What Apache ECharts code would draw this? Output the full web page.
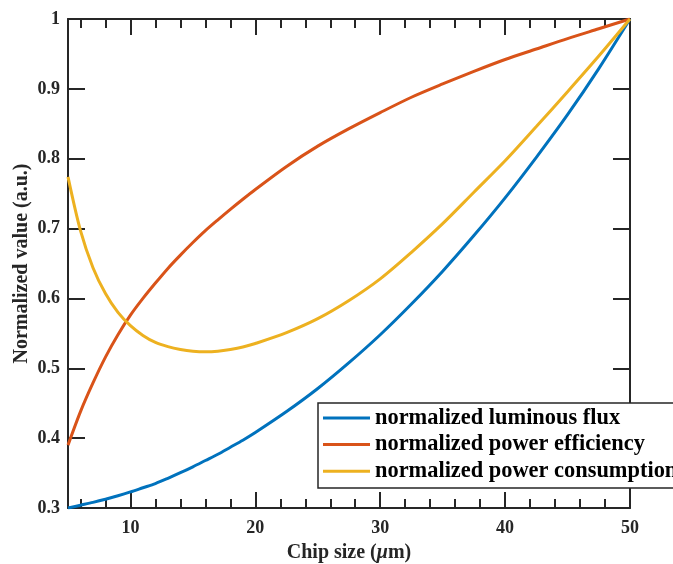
<!DOCTYPE html>
<html>
<head>
<meta charset="utf-8">
<script src="https://cdn.jsdelivr.net/npm/echarts@6/dist/echarts.min.js"></script>
<style>html,body{margin:0;padding:0;background:#fff}#c{width:673px;height:564px}</style>
</head>
<body>
<div id="c"></div>
<script>
// chip size (um)
var chipSize = [5,6,7,8,9,10,11,12,13,14,15,16,17,18,19,20,22.5,25,27.5,30,32.5,35,37.5,40,42.5,45,47.5,50];
var luminousFlux = [0.300,0.304,0.308,0.3125,0.3175,0.323,0.329,0.335,0.3425,0.3505,0.359,0.368,0.377,0.387,0.397,0.408,0.438,0.471,0.508,0.548,0.592,0.639,0.690,0.744,0.802,0.863,0.929,1.000];
var powerEfficiency = [0.390,0.438,0.479,0.516,0.548,0.576,0.600,0.622,0.643,0.662,0.680,0.697,0.7125,0.7275,0.742,0.756,0.789,0.818,0.843,0.866,0.888,0.907,0.925,0.942,0.957,0.972,0.986,1.000];
var powerConsumption = [0.774,0.697,0.644,0.607,0.580,0.561,0.547,0.537,0.531,0.527,0.5245,0.5236,0.5245,0.527,0.5305,0.5355,0.551,0.571,0.597,0.628,0.666,0.707,0.752,0.797,0.846,0.896,0.947,1.000];
var seriesNames = ['normalized luminous flux','normalized power efficiency','normalized power consumption'];
var xMajorTicks = [10,20,30,40,50];
var xMinorTicks = [6,8,12,14,16,18,22,24,26,28,32,34,36,38,42,44,46,48];

function pairs(ys){ return chipSize.map(function(x,i){ return [x, ys[i]]; }); }

var FONT = '"Liberation Serif","Times New Roman",serif';
var AX = '#262626';
var chart = echarts.init(document.getElementById('c'), null, {renderer:'canvas'});

function xAx(pos, ticks, len, labels, line){
  return {
    type:'value', position:pos, min:5, max:50, gridIndex:0,
    axisLine:{show:line, onZero:false, lineStyle:{color:AX, width:2}},
    axisTick:{show:true, inside:true, length:len, customValues:ticks, lineStyle:{color:AX, width:2}},
    axisLabel:{show:labels, customValues:xMajorTicks, margin:11, color:AX, fontFamily:FONT, fontWeight:'bold', fontSize:18},
    splitLine:{show:false}
  };
}
var xAxes = [xAx('bottom', xMajorTicks, 16, true, true), xAx('bottom', xMinorTicks, 9, false, false),
             xAx('top', xMajorTicks, 16, false, true), xAx('top', xMinorTicks, 9, false, false)];
xAxes[0].name = '{a|Chip size (}{b|\u03bc}{a|m)}';
xAxes[0].nameLocation = 'middle';
xAxes[0].nameGap = 35;
xAxes[0].nameMoveOverlap = false;
xAxes[0].nameTextStyle = {rich:{
  a:{fontFamily:FONT, fontWeight:'bold', fontSize:20, color:AX},
  b:{fontFamily:FONT, fontWeight:'bold', fontStyle:'italic', fontSize:20, color:AX}
}};

function yAx(pos, labels){
  return {
    type:'value', position:pos, min:0.3, max:1, interval:0.1,
    axisLine:{show:true, onZero:false, lineStyle:{color:AX, width:2}},
    axisTick:{show:true, inside:true, length:17, lineStyle:{color:AX, width:2}},
    axisLabel:{show:labels, margin:8, color:AX, fontFamily:FONT, fontWeight:'bold', fontSize:18,
      formatter:function(v){ return String(Math.round(v*10)/10); }},
    splitLine:{show:false}
  };
}
var yAxes = [yAx('left', true), yAx('right', false)];
yAxes[0].name = 'Normalized value (a.u.)';
yAxes[0].nameLocation = 'middle';
yAxes[0].nameGap = 36;
yAxes[0].nameMoveOverlap = false;
yAxes[0].nameTextStyle = {fontFamily:FONT, fontWeight:'bold', fontSize:20, color:AX};

var colors = ['#0072BD','#D95319','#EDB120'];
var dataSets = [luminousFlux, powerEfficiency, powerConsumption];
var series = dataSets.map(function(d,i){
  return {name:seriesNames[i], type:'line', xAxisIndex:0, yAxisIndex:0, data:pairs(d),
    smooth:0.3, showSymbol:false, symbol:'none', lineStyle:{width:3, color:colors[i]}, itemStyle:{color:colors[i]}, z:3};
});

chart.setOption({
  animation:false,
  backgroundColor:'#fff',
  color:colors,
  grid:{left:68, right:43, top:19, bottom:56, containLabel:false, outerBoundsMode:'none'},
  xAxis:xAxes,
  yAxis:yAxes,
  graphic:[{type:'rect', z:10, shape:{x:318, y:403, width:420, height:85},
    style:{fill:'#fff', stroke:AX, lineWidth:1.5}}],
  legend:{orient:'vertical', left:323, top:407, z:20, icon:'rect', itemWidth:47, itemHeight:3, itemGap:4.6,
    padding:0, backgroundColor:'transparent', borderWidth:0,
    textStyle:{fontFamily:FONT, fontWeight:'bold', fontSize:22.4, color:'#000'}, data:seriesNames},
  series:series
});
</script>
</body>
</html>
